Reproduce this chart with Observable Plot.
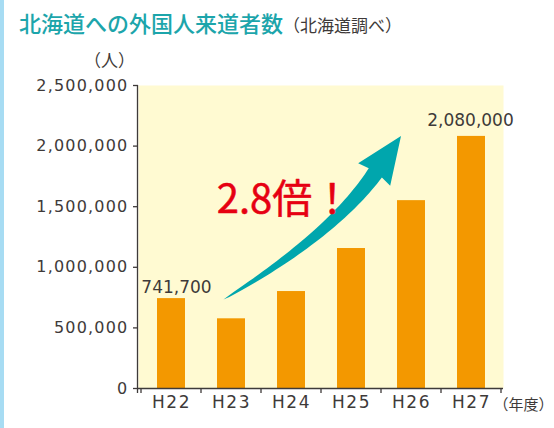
<!DOCTYPE html>
<html>
<head>
<meta charset="utf-8">
<script src="https://cdn.jsdelivr.net/npm/d3@7"></script>
<script src="https://cdn.jsdelivr.net/npm/@observablehq/plot@0.6"></script>
<style>
html, body { margin: 0; padding: 0; background: #ffffff; }
body { width: 554px; height: 428px; position: relative; overflow: hidden; }
#strip { position: absolute; left: 0; top: 0; width: 4px; height: 428px; background: #a7dcf3; }
#chart { position: absolute; left: 0; top: 0; }
#title { position: absolute; left: 19px; top: 11px; white-space: nowrap; font-family: "Noto Sans CJK JP", sans-serif; line-height: 22px; }
#title .main { font-size: 22px; color: #1ca5ab; font-weight: 500; }
#title .sub { font-size: 17px; color: #3e3a39; margin-left: 0px; }
g[aria-label="y-axis tick label"] text { letter-spacing: 1.2px; }
g[aria-label="x-axis tick label"] text { letter-spacing: 1.5px; }
</style>
</head>
<body>
<div id="strip"></div>
<div id="chart"></div>
<div id="title"><span class="main">北海道への外国人来道者数</span><span class="sub">（北海道調べ）</span></div>
<script>
// ---- data ----
const years = ["H22", "H23", "H24", "H25", "H26", "H27"];
const visitors = [741700, 575000, 800000, 1155000, 1550000, 2080000];
const yTicks = [0, 500000, 1000000, 1500000, 2000000, 2500000];
const labelYears = ["H22", "H27"];
const labelTexts = ["741,700", "2,080,000"];
const unitY = "（人）";
const unitX = "（年度）";
const growthText = "2.8倍！";
const growthAt = {year: "H24", value: 1550000};
const arrowFrom = {year: "H23", value: 730000};
const arrowTo = {year: "H26", value: 2080000};

const data = years.map((year, i) => ({year, value: visitors[i]}));
const labels = labelYears.map((year, i) => ({year, value: visitors[years.indexOf(year)], text: labelTexts[i]}));

const textColor = "#3e3a39";
const numFont = "DejaVu Sans";
const jpFont = "Noto Sans CJK JP";

// axis line on the left and boundary ticks under the x axis
function axisLines(index, scales) {
  const {x, y} = scales;
  const g = d3.create("svg:g");
  const [x0] = x.range();
  const gap = (x.step() - x.bandwidth()) / 2;
  g.append("line")
    .attr("x1", x0 - 0.5).attr("x2", x0 - 0.5)
    .attr("y1", y(yTicks[yTicks.length - 1])).attr("y2", y(0) + 5)
    .attr("stroke", textColor).attr("stroke-width", 1.3);
  const dom = x.domain();
  const bounds = dom.map(d => x(d) - gap);
  bounds.push(x(dom[dom.length - 1]) + x.bandwidth() + gap);
  bounds.forEach(b => {
    g.append("line")
      .attr("x1", b).attr("x2", b)
      .attr("y1", y(0)).attr("y2", y(0) + 5)
      .attr("stroke", textColor).attr("stroke-width", 1.3);
  });
  return g.node();
}

// curved tapered arrow
function growthArrow(index, scales) {
  const {x, y} = scales;
  const cx = d => x(d) + x.bandwidth() / 2;
  const P0 = [cx(arrowFrom.year) - 7.5, y(arrowFrom.value)];
  const tip = [cx(arrowTo.year) - 10, y(arrowTo.value)];
  const ang = -55.2 * Math.PI / 180;
  const dir = [Math.cos(ang), Math.sin(ang)];
  const headLen = 45, headHalf = 19.5, neckHalf = 8, ctrlLen = 75;
  const N = [tip[0] - headLen * dir[0], tip[1] - headLen * dir[1]];
  const C = [N[0] - ctrlLen * dir[0], N[1] - ctrlLen * dir[1]];
  const sideA = [], sideB = [];
  const steps = 40;
  for (let i = 0; i <= steps; i++) {
    const t = i / steps;
    const bx = (1 - t) * (1 - t) * P0[0] + 2 * t * (1 - t) * C[0] + t * t * N[0];
    const by = (1 - t) * (1 - t) * P0[1] + 2 * t * (1 - t) * C[1] + t * t * N[1];
    const dx = 2 * (1 - t) * (C[0] - P0[0]) + 2 * t * (N[0] - C[0]);
    const dy = 2 * (1 - t) * (C[1] - P0[1]) + 2 * t * (N[1] - C[1]);
    const len = Math.hypot(dx, dy);
    const nx = -dy / len, ny = dx / len;
    const w = neckHalf * Math.pow(t, 0.65);
    sideA.push([bx + nx * w, by + ny * w]);
    sideB.push([bx - nx * w, by - ny * w]);
  }
  const nN = [-dir[1], dir[0]];
  const barbA = [N[0] + nN[0] * headHalf - dir[0] * 2, N[1] + nN[1] * headHalf - dir[1] * 2];
  const barbB = [N[0] - nN[0] * headHalf - dir[0] * 2, N[1] - nN[1] * headHalf - dir[1] * 2];
  const pts = [...sideA, barbA, tip, barbB, ...sideB.reverse()];
  const g = d3.create("svg:g");
  g.append("path").attr("d", d3.line()(pts) + "Z").attr("fill", "#00a6ad");
  return g.node();
}

const plot = Plot.plot({
  width: 554,
  height: 428,
  marginTop: 85,
  marginBottom: 40,
  marginLeft: 138,
  marginRight: 51,
  style: {background: "transparent", color: textColor, fontFamily: numFont},
  x: {domain: years, paddingInner: 0.54, paddingOuter: 0.27, label: null},
  y: {domain: [0, 2500000], label: null},
  marks: [
    Plot.frame({fill: "#fffad2", stroke: "none"}),
    Plot.barY(data, {x: "year", y: "value", fill: "#f39800"}),
    Plot.ruleY([0], {stroke: textColor, strokeWidth: 1.3}),
    axisLines,
    Plot.axisY({ticks: yTicks, tickFormat: d3.format(","), tickSize: 5, tickPadding: 5,
      fontSize: 16, fontFamily: numFont, color: textColor, strokeWidth: 1.3, label: null}),
    Plot.axisX({tickSize: 0, tickPadding: 7, fontSize: 17, fontFamily: numFont, color: textColor, label: null}),
    Plot.text([labels[0]], {x: "year", y: "value", text: "text", dx: 5, dy: -11, lineAnchor: "middle",
      fontSize: 17, fontFamily: numFont, fill: textColor}),
    Plot.text([labels[1]], {x: "year", y: "value", text: "text", dx: -1, dy: -16, lineAnchor: "middle",
      fontSize: 17, fontFamily: numFont, fill: textColor}),
    growthArrow,
    Plot.text([growthAt], {x: "year", y: "value", text: () => growthText, dx: -7, textAnchor: "middle", lineAnchor: "middle",
      fontSize: 40, fontWeight: 400, fontFamily: jpFont, fill: "#e60012", stroke: "#e60012", strokeWidth: 0.5}),
    Plot.text([unitY], {frameAnchor: "top-left", text: d => d, dx: -29, dy: -24, textAnchor: "middle", lineAnchor: "middle",
      fontSize: 17, fontFamily: jpFont, fill: textColor}),
    Plot.text([unitX], {frameAnchor: "bottom-left", text: d => d, dx: 355, dy: 17, textAnchor: "start",
      lineAnchor: "middle", fontSize: 15, fontFamily: jpFont, fill: textColor})
  ]
});
document.getElementById("chart").appendChild(plot);
</script>
</body>
</html>
